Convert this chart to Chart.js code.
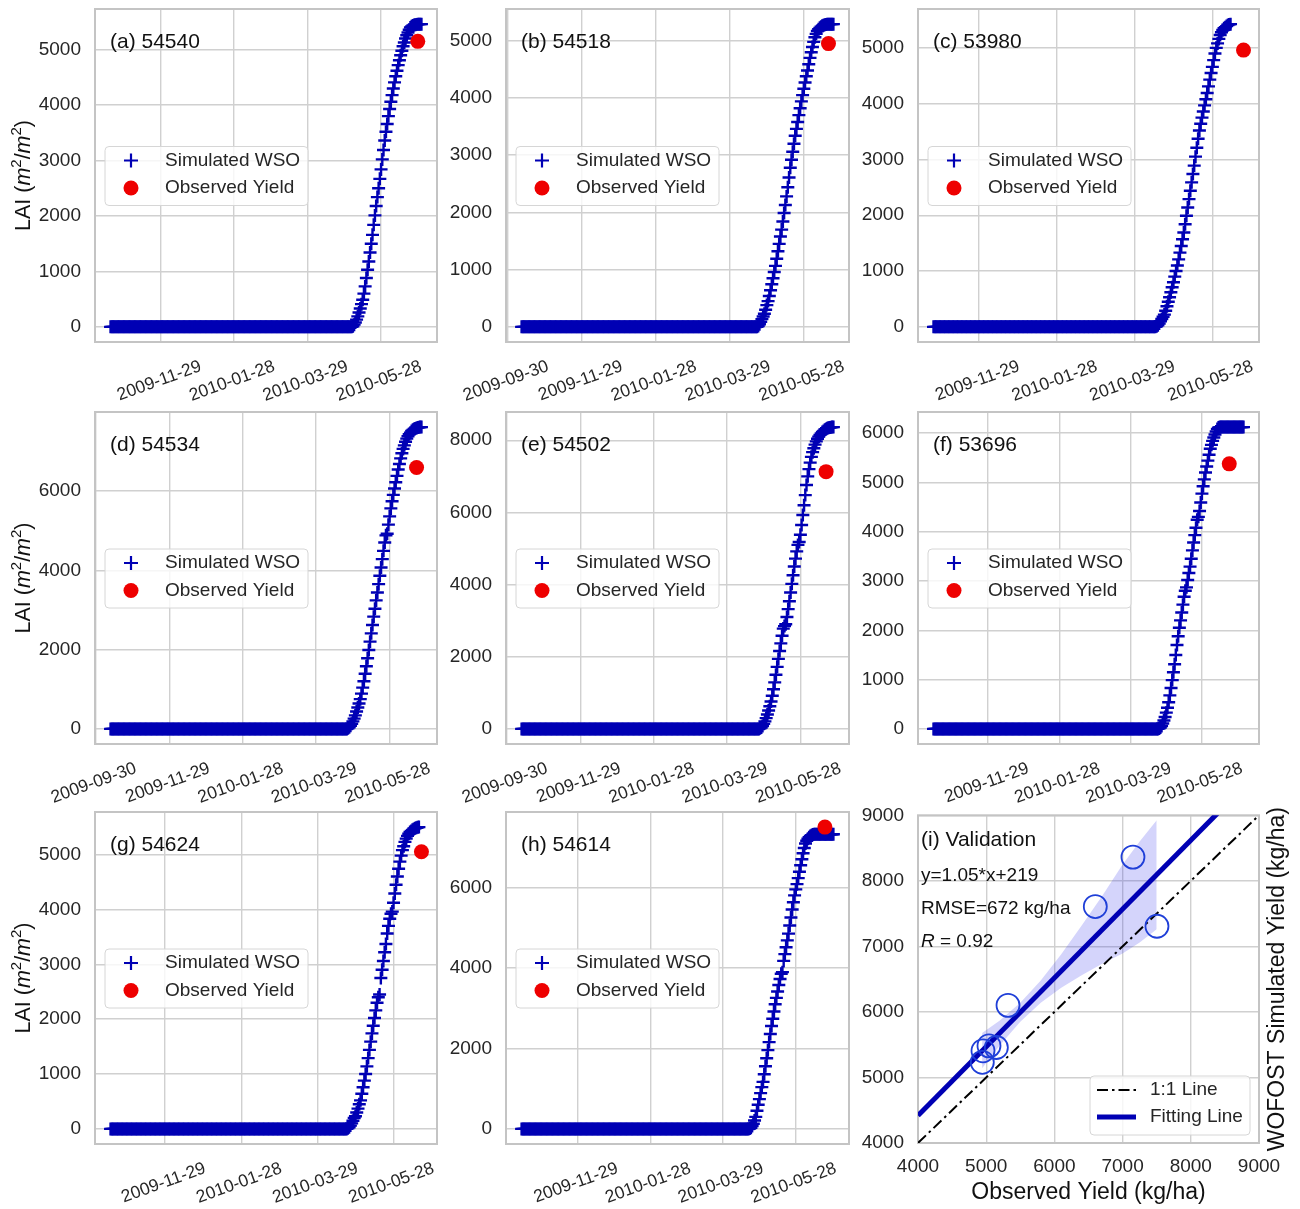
<!DOCTYPE html>
<html>
<head>
<meta charset="utf-8">
<title>WOFOST simulated WSO vs observed yield</title>
<script src="https://cdn.jsdelivr.net/npm/chart.js@4.4.1/dist/chart.umd.min.js"></script>
<style>
  html, body { margin: 0; padding: 0; background: #fff; }
  body { width: 1300px; height: 1209px; position: relative; overflow: hidden; }
  canvas { position: absolute; }
</style>
</head>
<body>
<script>
// ---- values ----
const stations = ['54540', '54518', '53980', '54534', '54502', '53696', '54624', '54614'];
const panelTags = ['(a)', '(b)', '(c)', '(d)', '(e)', '(f)', '(g)', '(h)'];
const simStart = ['2009-10-19', '2009-10-11', '2009-10-25', '2009-10-12', '2009-10-12', '2009-10-14', '2009-10-17', '2009-10-14'];
// days WSO stays at 0 before grain filling starts
const zeroDays = [198, 192, 172, 194, 195, 190, 187, 188];
// daily WSO once grain filling starts
const wsoA = [10, 40, 80, 130, 190, 260, 330, 410, 490, 600, 730, 880, 1030, 1180, 1340, 1500, 1660, 1840, 2010, 2180,
  2340, 2500, 2670, 2840, 3020, 3190, 3360, 3520, 3660, 3800, 3930, 4060, 4180, 4300, 4410, 4520, 4620, 4720, 4810, 4900,
  4980, 5060, 5130, 5200, 5260, 5310, 5360, 5400, 5420, 5435, 5445, 5450, 5455, 5458, 5460, 5460, 5460];
const wsoB = [15, 45, 90, 135, 180, 230, 300, 380, 450, 540, 640, 745, 850, 960, 1065, 1190, 1320, 1450, 1580, 1700,
  1840, 1990, 2130, 2280, 2440, 2610, 2780, 2920, 3060, 3200, 3340, 3460, 3580, 3700, 3820, 3940, 4050, 4160, 4270, 4380,
  4480, 4590, 4700, 4800, 4890, 4980, 5060, 5120, 5170, 5200, 5225, 5245, 5260, 5270, 5278, 5283, 5286, 5288, 5290, 5290,
  5290, 5290];
const wsoC = [10, 30, 60, 100, 140, 180, 220, 290, 370, 450, 530, 620, 710, 800, 900, 1000, 1100, 1210, 1330, 1450,
  1570, 1690, 1840, 1990, 2140, 2290, 2440, 2590, 2740, 2890, 3050, 3210, 3370, 3520, 3640, 3750, 3860, 3970, 4080, 4190,
  4310, 4430, 4550, 4660, 4780, 4900, 5000, 5080, 5160, 5230, 5280, 5320, 5350, 5370, 5390, 5410, 5420, 5425];
const wsoD = [15, 40, 80, 130, 190, 260, 340, 440, 540, 640, 750, 890, 1040, 1200, 1390, 1580, 1780, 1990, 2200, 2410,
  2620, 2830, 3030, 3240, 3440, 3650, 3860, 4070, 4280, 4490, 4700, 4880, 4920, 5150, 5360, 5560, 5740, 5900, 6060, 6220,
  6380, 6540, 6680, 6820, 6950, 7060, 7150, 7240, 7320, 7380, 7430, 7470, 7510, 7540, 7560, 7575, 7590, 7600, 7605, 7610,
  7610];
const wsoE = [15, 40, 80, 140, 210, 300, 400, 510, 630, 760, 920, 1100, 1290, 1500, 1720, 1940, 2160, 2370, 2580, 2780,
  2850, 2900, 3100, 3320, 3540, 3780, 4020, 4260, 4500, 4720, 4920, 5100, 5180, 5380, 5650, 5930, 6200, 6480, 6760, 7000,
  7200, 7380, 7540, 7670, 7780, 7880, 7970, 8040, 8100, 8150, 8190, 8230, 8260, 8290, 8310, 8330, 8345, 8355, 8362, 8365,
  8365];
const wsoF = [10, 30, 60, 110, 170, 240, 330, 430, 540, 680, 830, 990, 1150, 1310, 1500, 1700, 1880, 2050, 2200, 2360,
  2520, 2680, 2800, 2870, 3020, 3160, 3290, 3450, 3620, 3780, 3930, 4080, 4240, 4300, 4420, 4590, 4770, 4920, 5060, 5200,
  5320, 5440, 5560, 5680, 5760, 5840, 5910, 5970, 6030, 6080, 6110, 6120, 6120, 6120, 6120, 6120, 6120, 6120, 6120, 6120,
  6120, 6120, 6120, 6120, 6120, 6120, 6120, 6120, 6120, 6120, 6120, 6120];
const wsoG = [10, 30, 60, 100, 150, 200, 230, 300, 370, 450, 520, 640, 760, 880, 1000, 1140, 1290, 1440, 1590, 1740,
  1880, 2020, 2160, 2300, 2400, 2450, 2750, 2900, 3060, 3220, 3370, 3560, 3700, 3830, 3920, 3960, 4120, 4290, 4450, 4600,
  4740, 4870, 4980, 5080, 5150, 5230, 5290, 5340, 5380, 5410, 5430, 5450, 5465, 5478, 5488, 5495, 5500];
const wsoH = [10, 30, 70, 130, 210, 300, 450, 600, 740, 890, 1040, 1170, 1360, 1560, 1760, 1960, 2160, 2360, 2560, 2740,
  2920, 3100, 3260, 3420, 3580, 3730, 3860, 3900, 4180, 4350, 4520, 4690, 4860, 5060, 5260, 5460, 5640, 5810, 5960, 6090,
  6240, 6400, 6560, 6710, 6860, 6990, 7100, 7170, 7220, 7260, 7290, 7310, 7325, 7330, 7330, 7330, 7330, 7330, 7330, 7330,
  7330, 7330, 7330, 7330, 7330, 7330, 7330, 7330, 7330, 7330];
const obsDate = ['2010-06-27', '2010-06-17', '2010-06-21', '2010-06-19', '2010-06-18', '2010-06-20', '2010-06-19', '2010-06-21'];
const obsYield = [5150, 4950, 4960, 6590, 7130, 5375, 5050, 7510];
const dateTicks = ['2009-09-30', '2009-11-29', '2010-01-28', '2010-03-29', '2010-05-28'];
const yTicks = [
  [0, 1000, 2000, 3000, 4000, 5000],
  [0, 1000, 2000, 3000, 4000, 5000],
  [0, 1000, 2000, 3000, 4000, 5000],
  [0, 2000, 4000, 6000],
  [0, 2000, 4000, 6000, 8000],
  [0, 1000, 2000, 3000, 4000, 5000, 6000],
  [0, 1000, 2000, 3000, 4000, 5000],
  [0, 2000, 4000, 6000]
];

// validation panel (i)
const valObs = [5149, 4943, 4953, 6600, 7152, 5320, 5041, 7504];
const valSim = [5457, 5231, 5407, 7608, 8362, 6100, 5482, 7307];
const fitX = [4000, 9000];
const fitY = [4419, 9669];
const oneX = [4000, 9000];
const oneY = [4000, 9000];
const bandX = [4940, 5200, 5500, 5800, 6100, 6400, 6700, 7000, 7250, 7500];
const bandUpper = [5680, 5870, 6140, 6480, 6880, 7320, 7770, 8250, 8600, 8925];
const bandLower = [5140, 5490, 5850, 6140, 6370, 6560, 6735, 6890, 7060, 7260];
const valTicks = [4000, 5000, 6000, 7000, 8000, 9000];

// ---- styling / layout ----
const FONT = "'Liberation Sans', Arial, sans-serif";
const BLUE = '#0000b4', RED = '#ee0000', CIRC = '#1f3fd8';
const GRID = '#d0d0d0', EDGE = '#c4c4c4', INK = '#262626', DARK = '#111111';
Chart.defaults.font.family = FONT;
Chart.defaults.color = INK;

const wsoSeries = [wsoA, wsoB, wsoC, wsoD, wsoE, wsoF, wsoG, wsoH];
const colLeft = [95, 506, 918], colW = [342, 343, 341];
const rowTop = [9, 412, 812], rowH = [333, 332, 332];
const AXW = 95, PADT = 10, PADR = 20, AXH = 60;

const DAY0 = Date.parse('2009-09-30');
const dayOf = s => Math.round((Date.parse(s) - DAY0) / 864e5);
const dayLabel = d => new Date(DAY0 + d * 864e5).toISOString().slice(0, 10);

function makeCanvas(left, top, w, h) {
  const c = document.createElement('canvas');
  c.width = w; c.height = h;
  c.style.left = left + 'px'; c.style.top = top + 'px';
  c.style.width = w + 'px'; c.style.height = h + 'px';
  document.body.appendChild(c);
  return c;
}

function text(ctx, s, x, y, size, opts = {}) {
  ctx.save();
  ctx.font = `${opts.italic ? 'italic ' : ''}${size}px ${FONT}`;
  ctx.fillStyle = opts.color || DARK;
  ctx.textAlign = opts.align || 'left';
  ctx.textBaseline = 'middle';
  ctx.fillText(s, x, y);
  ctx.restore();
}

// mixed-font text (italic / superscript), optionally rotated to read upwards
function rich(ctx, segs, x, y, opts = {}) {
  ctx.save();
  ctx.translate(x, y);
  if (opts.rotate) ctx.rotate(-Math.PI / 2);
  let w = 0;
  segs.forEach(s => {
    ctx.font = `${s.italic ? 'italic ' : ''}${s.size}px ${FONT}`;
    s.w = ctx.measureText(s.t).width;
    w += s.w;
  });
  let cx = opts.align === 'left' ? 0 : -w / 2;
  const base = segs[0].size * 0.36;
  ctx.fillStyle = opts.color || DARK;
  ctx.textBaseline = 'alphabetic';
  segs.forEach(s => {
    ctx.font = `${s.italic ? 'italic ' : ''}${s.size}px ${FONT}`;
    ctx.fillText(s.t, cx, base + (s.dy || 0));
    cx += s.w;
  });
  ctx.restore();
}

function legendBox(ctx, x, y, w, h) {
  const r = 4;
  ctx.save();
  ctx.beginPath();
  ctx.moveTo(x + r, y);
  ctx.arcTo(x + w, y, x + w, y + h, r);
  ctx.arcTo(x + w, y + h, x, y + h, r);
  ctx.arcTo(x, y + h, x, y, r);
  ctx.arcTo(x, y, x + w, y, r);
  ctx.closePath();
  ctx.fillStyle = 'rgba(255,255,255,0.8)';
  ctx.fill();
  ctx.strokeStyle = '#d6d6d6';
  ctx.lineWidth = 1;
  ctx.stroke();
  ctx.restore();
}

function frame(ctx, a) {
  ctx.save();
  ctx.strokeStyle = EDGE;
  ctx.lineWidth = 2;
  ctx.strokeRect(a.left, a.top, a.right - a.left, a.bottom - a.top);
  ctx.restore();
}

const LAI_LABEL = [
  { t: 'LAI (', size: 21.5 }, { t: 'm', size: 21.5, italic: true }, { t: '2', size: 15, dy: -9 },
  { t: '/', size: 21.5 }, { t: 'm', size: 21.5, italic: true }, { t: '2', size: 15, dy: -9 }, { t: ')', size: 21.5 }
];

function tsPanel(k) {
  const col = k % 3, row = Math.floor(k / 3);
  const W = colW[col], H = rowH[row];
  const wso = wsoSeries[k];
  const d0 = dayOf(simStart[k]);
  const pts = [];
  for (let i = 0; i < zeroDays[k]; i++) pts.push({ x: d0 + i, y: 0 });
  wso.forEach((v, i) => pts.push({ x: d0 + zeroDays[k] + i, y: v }));
  const obs = { x: dayOf(obsDate[k]), y: obsYield[k] };
  const xs = pts.map(p => p.x).concat(obs.x);
  const x0 = Math.min(...xs), x1 = Math.max(...xs), xp = (x1 - x0) * 0.05;
  const y1 = Math.max(...wso, obs.y), yp = y1 * 0.05;
  const tickDays = dateTicks.map(dayOf);
  const canvas = makeCanvas(colLeft[col] - AXW, rowTop[row] - PADT, AXW + W + PADR, PADT + H + AXH);

  new Chart(canvas, {
    type: 'scatter',
    data: {
      datasets: [
        { label: 'Observed Yield', data: [obs], pointStyle: 'circle', pointRadius: 7.5,
          backgroundColor: RED, borderColor: RED, borderWidth: 0, order: 0 },
        { label: 'Simulated WSO', data: pts, pointStyle: 'cross', pointRadius: 6.5,
          borderColor: BLUE, backgroundColor: BLUE, borderWidth: 2.4, order: 1 }
      ]
    },
    options: {
      animation: false, responsive: false, events: [],
      layout: { padding: { top: PADT, right: PADR, left: 0, bottom: 0 } },
      plugins: { legend: { display: false }, tooltip: { enabled: false } },
      scales: {
        x: {
          type: 'linear', min: x0 - xp, max: x1 + xp,
          afterBuildTicks: s => { s.ticks = tickDays.filter(v => v >= s.min && v <= s.max).map(v => ({ value: v })); },
          afterFit: s => { s.height = AXH; s.paddingLeft = 0; s.paddingRight = 0; },
          ticks: { callback: v => dayLabel(v), autoSkip: false, minRotation: 20, maxRotation: 20,
                   labelOffset: 40, padding: 14, font: { size: 17.5 }, color: INK },
          grid: { color: GRID, lineWidth: 1.4, drawTicks: false },
          border: { display: false }
        },
        y: {
          type: 'linear', min: -yp, max: y1 + yp,
          afterBuildTicks: s => { s.ticks = yTicks[k].filter(v => v >= s.min && v <= s.max).map(v => ({ value: v })); },
          afterFit: s => { s.width = AXW; s.paddingTop = 0; s.paddingBottom = 0; },
          ticks: { callback: v => String(v), padding: 14, font: { size: 19 }, color: INK },
          grid: { color: GRID, lineWidth: 1.4, drawTicks: false },
          border: { display: false }
        }
      }
    },
    plugins: [{
      id: 'tsDeco',
      beforeDatasetsDraw(chart) { frame(chart.ctx, chart.chartArea); },
      afterDraw(chart) {
        const ctx = chart.ctx, a = chart.chartArea;
        const mid = (a.top + a.bottom) / 2;
        text(ctx, `${panelTags[k]} ${stations[k]}`, a.left + 15, chart.scales.y.getPixelForValue(0.94 * y1), 21);
        legendBox(ctx, a.left + 10, mid - 29, 203, 59);
        const mx = a.left + 36, r1 = mid - 15, r2 = mid + 12.5;
        ctx.save();
        ctx.strokeStyle = BLUE; ctx.lineWidth = 2.2;
        ctx.beginPath();
        ctx.moveTo(mx - 7, r1); ctx.lineTo(mx + 7, r1);
        ctx.moveTo(mx, r1 - 7); ctx.lineTo(mx, r1 + 7);
        ctx.stroke();
        ctx.fillStyle = RED;
        ctx.beginPath(); ctx.arc(mx, r2, 7.5, 0, Math.PI * 2); ctx.fill();
        ctx.restore();
        text(ctx, 'Simulated WSO', a.left + 70, r1, 19, { color: INK });
        text(ctx, 'Observed Yield', a.left + 70, r2, 19, { color: INK });
        if (col === 0) rich(ctx, LAI_LABEL, a.left - 73, mid, { rotate: true });
      }
    }]
  });
}

function valPanel() {
  const W = 341, H = 331, left = 918, top = 812;
  const canvas = makeCanvas(left - AXW, top - PADT, AXW + W + 40, PADT + H + 70);
  const xy = (xs, ys) => xs.map((x, i) => ({ x, y: ys[i] }));
  new Chart(canvas, {
    type: 'scatter',
    data: {
      datasets: [
        { label: 'stations', data: xy(valObs, valSim), pointStyle: 'circle', pointRadius: 11.5,
          borderColor: CIRC, borderWidth: 1.8, backgroundColor: 'rgba(0,0,0,0)', order: 0 },
        { type: 'line', label: 'Fitting Line', data: xy(fitX, fitY), showLine: true, borderColor: BLUE,
          borderWidth: 5, pointRadius: 0, fill: false, order: 1 },
        { type: 'line', label: '1:1 Line', data: xy(oneX, oneY), showLine: true, borderColor: '#000000',
          borderWidth: 2, borderDash: [11, 4, 2.5, 4], pointRadius: 0, fill: false, order: 2 },
        { type: 'line', label: 'ci upper', data: xy(bandX, bandUpper), showLine: true, borderColor: 'rgba(0,0,0,0)',
          borderWidth: 1, pointRadius: 0, fill: '+1', backgroundColor: 'rgba(40,40,235,0.2)', order: 3 },
        { type: 'line', label: 'ci lower', data: xy(bandX, bandLower), showLine: true, borderColor: 'rgba(0,0,0,0)',
          borderWidth: 1, pointRadius: 0, fill: false, order: 4 }
      ]
    },
    options: {
      animation: false, responsive: false, events: [],
      layout: { padding: { top: PADT, right: 40, left: 0, bottom: 0 } },
      plugins: { legend: { display: false }, tooltip: { enabled: false } },
      scales: {
        x: {
          type: 'linear', min: 4000, max: 9000,
          afterBuildTicks: s => { s.ticks = valTicks.map(v => ({ value: v })); },
          afterFit: s => { s.height = 70; s.paddingLeft = 0; s.paddingRight = 0; },
          ticks: { callback: v => String(v), autoSkip: false, maxRotation: 0, minRotation: 0,
                   padding: 12, font: { size: 19 }, color: INK },
          grid: { color: GRID, lineWidth: 1.4, drawTicks: false },
          border: { display: false }
        },
        y: {
          type: 'linear', min: 4000, max: 9000,
          afterBuildTicks: s => { s.ticks = valTicks.map(v => ({ value: v })); },
          afterFit: s => { s.width = AXW; s.paddingTop = 0; s.paddingBottom = 0; },
          ticks: { callback: v => String(v), padding: 14, font: { size: 19 }, color: INK },
          grid: { color: GRID, lineWidth: 1.4, drawTicks: false },
          border: { display: false }
        }
      }
    },
    plugins: [{
      id: 'valDeco',
      beforeDatasetsDraw(chart) { frame(chart.ctx, chart.chartArea); },
      afterDraw(chart) {
        const ctx = chart.ctx, a = chart.chartArea;
        text(ctx, '(i) Validation', a.left + 3, a.top + 25, 21);
        text(ctx, 'y=1.05*x+219', a.left + 3, a.top + 60, 19);
        text(ctx, 'RMSE=672 kg/ha', a.left + 3, a.top + 93, 19);
        rich(ctx, [{ t: 'R', size: 19, italic: true }, { t: ' = 0.92', size: 19 }], a.left + 3, a.top + 125, { align: 'left' });

        // legend, lower right
        legendBox(ctx, a.right - 169, a.bottom - 67, 160, 59);
        const r1 = a.bottom - 53, r2 = a.bottom - 26, lx0 = a.right - 162, lx1 = a.right - 123;
        ctx.save();
        ctx.strokeStyle = '#000000'; ctx.lineWidth = 2; ctx.setLineDash([11, 4, 2.5, 4]);
        ctx.beginPath(); ctx.moveTo(lx0, r1); ctx.lineTo(lx1, r1); ctx.stroke();
        ctx.setLineDash([]); ctx.strokeStyle = BLUE; ctx.lineWidth = 5;
        ctx.beginPath(); ctx.moveTo(lx0, r2); ctx.lineTo(lx1, r2); ctx.stroke();
        ctx.restore();
        text(ctx, '1:1 Line', a.right - 109, r1, 19, { color: INK });
        text(ctx, 'Fitting Line', a.right - 109, r2, 19, { color: INK });

        text(ctx, 'Observed Yield (kg/ha)', (a.left + a.right) / 2, a.bottom + 50, 23, { align: 'center' });
        rich(ctx, [{ t: 'WOFOST Simulated Yield (kg/ha)', size: 23 }], a.right + 17, (a.top + a.bottom) / 2, { rotate: true });
      }
    }]
  });
}

for (let k = 0; k < 8; k++) tsPanel(k);
valPanel();
</script>
</body>
</html>
